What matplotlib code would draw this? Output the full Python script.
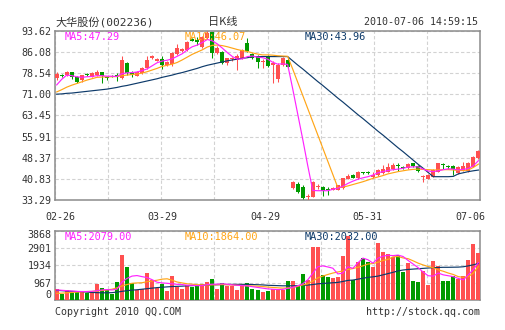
import numpy as np
import matplotlib
matplotlib.use("Agg")
import matplotlib.pyplot as plt

stock_name = "大华股份"
stock_code = "002236"
stamp = "2010-07-06 14:59:15"
date_labels = ["02-26", "03-29", "04-29", "05-31", "07-06"]
price_ticks = [33.29, 40.83, 48.37, 55.91, 63.45, 71.00, 78.54, 86.08, 93.62]
volume_ticks = [0, 967, 1934, 2901, 3868]

# daily k-line
opens = [76.9, 77.9, 77.7, 78.8, 77.2, 76.0, 78.2, 77.2, 77.8, 78.8,
         76.9, 77.5, 77.6, 76.9, 82.2, 78.7, 77.6, 78.4, 80.2, 83.8,
         83.0, 83.5, 81.4, 81.6, 85.2, 86.5, 86.7, 90.6, 90.3, 87.9,
         91.1, 93.0, 85.6, 86.1, 82.0, 83.4, 83.2, 83.8, 89.1, 85.2,
         84.4, 82.4, 84.4, 81.4, 76.4, 81.4, 83.2, 37.4, 39.0, 38.0,
         34.4, 34.5, 37.8, 38.0, 37.2, 36.9, 36.9, 37.5, 40.8, 42.2,
         41.0, 43.1, 43.2, 41.6, 42.2, 42.8, 43.4, 44.2, 45.5, 44.9,
         44.6, 46.3, 45.4, 41.4, 40.8, 41.6, 43.4, 45.9, 45.2, 45.4,
         42.8, 44.0, 43.6, 45.1, 48.2]
highs = [78.8, 78.3, 79.3, 79.0, 77.5, 78.0, 78.4, 78.8, 79.5, 79.0,
         77.2, 77.8, 78.5, 84.6, 82.6, 79.2, 79.3, 80.6, 84.5, 85.0,
         83.8, 84.5, 83.0, 86.0, 89.0, 87.5, 90.0, 91.0, 91.5, 91.8,
         93.62, 93.3, 88.0, 86.3, 84.0, 84.3, 85.2, 87.0, 91.1, 85.5,
         84.8, 83.5, 85.0, 83.0, 82.0, 84.2, 84.3, 40.2, 39.6, 38.5,
         35.6, 40.2, 39.0, 38.4, 37.8, 38.0, 38.8, 41.3, 42.5, 42.4,
         43.6, 43.4, 43.6, 43.4, 44.2, 45.8, 46.6, 46.6, 46.6, 45.3,
         46.4, 46.6, 45.8, 42.2, 42.4, 44.2, 46.5, 46.5, 45.9, 45.6,
         45.3, 46.9, 47.0, 48.9, 51.2]
lows = [76.0, 77.0, 77.3, 76.5, 75.0, 75.5, 77.4, 77.0, 77.5, 75.1,
        76.2, 77.0, 75.8, 76.5, 78.0, 77.0, 77.4, 78.2, 80.0, 83.5,
        82.8, 79.9, 81.0, 81.2, 85.0, 86.2, 86.5, 89.8, 88.5, 87.5,
        90.8, 83.8, 85.3, 81.6, 81.5, 83.0, 79.6, 83.5, 86.0, 83.5,
        80.2, 80.5, 80.8, 74.9, 75.5, 81.0, 80.5, 37.2, 35.8, 33.6,
        33.4, 34.3, 37.2, 34.6, 35.0, 36.7, 36.7, 37.3, 40.6, 41.0,
        40.8, 42.6, 42.5, 41.0, 42.0, 42.6, 43.2, 44.0, 43.6, 44.3,
        44.4, 45.2, 43.4, 39.8, 40.6, 41.4, 43.2, 44.3, 44.3, 42.2,
        42.6, 43.8, 43.4, 45.0, 48.0]
closes = [78.1, 77.6, 78.8, 77.2, 75.4, 77.8, 77.8, 78.4, 78.9, 77.3,
          76.7, 77.3, 77.4, 83.2, 78.4, 78.0, 79.0, 80.2, 83.2, 84.6,
          83.5, 81.4, 82.6, 85.6, 87.6, 87.0, 89.7, 90.0, 89.7, 91.5,
          92.7, 85.6, 87.3, 82.0, 83.8, 83.8, 84.6, 86.6, 86.4, 84.0,
          82.6, 82.8, 81.1, 82.0, 81.4, 83.8, 80.8, 39.8, 36.0, 34.1,
          34.8, 39.8, 38.0, 36.6, 36.9, 37.7, 38.5, 41.0, 41.9, 41.2,
          43.4, 42.9, 43.0, 42.2, 44.0, 44.2, 45.1, 45.8, 45.3, 44.6,
          46.1, 45.5, 43.6, 41.7, 42.2, 44.0, 46.3, 45.7, 45.0, 44.2,
          45.1, 45.4, 46.3, 48.7, 50.9]

ma5 = [74.3, 76.3, 77.8, 77.6, 77.2, 77.0, 77.2, 77.3, 77.6, 77.6,
       77.4, 77.4, 77.3, 78.3, 78.6, 78.7, 78.9, 79.4, 80.0, 81.1,
       82.2, 82.8, 83.1, 83.6, 84.5, 85.4, 86.8, 87.9, 88.5, 89.4,
       90.5, 90.0, 88.9, 87.4, 85.8, 84.4, 83.5, 83.6, 84.4, 84.6,
       84.2, 84.0, 83.5, 82.4, 81.7, 81.8, 81.6, 73.0, 64.0, 55.0,
       45.6, 36.7, 36.6, 36.6, 36.6, 37.1, 37.5, 38.2, 39.2, 40.0,
       40.7, 41.2, 41.6, 42.2, 43.0, 43.4, 43.8, 44.1, 44.3, 44.6,
       45.0, 45.1, 45.1, 44.3, 43.6, 43.4, 43.7, 44.1, 44.4, 44.3,
       44.0, 44.2, 44.5, 45.5, 47.29]
ma10 = [71.8, 72.6, 73.5, 74.2, 74.8, 75.4, 76.0, 76.5, 77.0, 77.1,
        77.2, 77.2, 77.3, 77.6, 77.8, 78.0, 78.2, 78.5, 79.0, 79.6,
        80.2, 80.9, 81.3, 81.7, 82.3, 83.2, 84.2, 85.2, 86.0, 86.8,
        87.8, 88.4, 88.5, 88.3, 87.9, 87.4, 86.9, 86.5, 86.2, 85.7,
        85.3, 85.0, 85.0, 84.9, 84.7, 84.6, 84.5, 80.0, 75.3, 70.6,
        65.9, 61.2, 56.5, 51.8, 47.1, 42.4, 37.7, 37.9, 38.3, 38.8,
        39.3, 39.8, 40.4, 41.0, 41.5, 42.0, 42.6, 43.0, 43.4, 43.7,
        44.0, 44.2, 44.3, 44.2, 44.1, 44.0, 44.0, 44.1, 44.1, 44.0,
        43.8, 43.8, 44.0, 44.9, 46.07]
ma30 = [71.0, 71.1, 71.3, 71.4, 71.6, 71.8, 72.0, 72.2, 72.4, 72.6,
        72.8, 73.1, 73.4, 73.8, 74.1, 74.5, 74.9, 75.3, 75.7, 76.1,
        76.5, 77.0, 77.4, 77.8, 78.3, 78.7, 79.2, 79.7, 80.2, 80.8,
        81.3, 81.7, 82.1, 82.5, 82.9, 83.2, 83.5, 83.8, 84.0, 84.4,
        84.4, 84.4, 84.4, 84.4, 84.4, 84.4, 84.4, 82.9, 81.4, 80.0,
        78.5, 77.0, 75.5, 74.1, 72.6, 71.1, 69.6, 68.2, 66.7, 65.2,
        63.7, 62.3, 60.8, 59.3, 57.8, 56.4, 54.9, 53.4, 51.9, 50.5,
        49.0, 47.5, 46.0, 44.6, 43.1, 41.6, 41.6, 41.6, 41.6, 41.7,
        42.6, 43.0, 43.4, 43.7, 43.96]

# volume
volumes = [630, 316, 558, 390, 502, 502, 390, 465, 880, 688,
           530, 345, 995, 2511, 1840, 940, 558, 614, 1500, 1100,
           651, 900, 510, 1339, 700, 614, 820, 744, 850, 900,
           1000, 1160, 614, 950, 800, 800, 558, 781, 950, 600,
           558, 465, 502, 614, 614, 558, 1079, 1079, 837, 1451,
           1116, 2939, 2939, 1395, 1265, 1209, 1265, 2455, 3571, 1116,
           2139, 2325, 2139, 1860, 3199, 2697, 2567, 2381, 2511, 1581,
           2083, 1079, 1023, 1637, 837, 2195, 1897, 1079, 1079, 1339,
           1150, 1350, 2200, 3100, 2595]
vol_ma5 = [558, 540, 520, 500, 480, 470, 470, 480, 520, 560,
           580, 560, 600, 1000, 1200, 1330, 1360, 1300, 1250, 1130,
           990, 950, 930, 900, 870, 860, 820, 820, 800, 800,
           860, 880, 880, 900, 880, 840, 820, 800, 780, 740,
           700, 660, 620, 600, 580, 590, 650, 700, 790, 900,
           1120, 1480, 1850, 1900, 1840, 1770, 1450, 1500, 1850, 1760,
           2070, 2330, 2240, 2050, 2330, 2440, 2490, 2470, 2500, 2420,
           2200, 2000, 1800, 1550, 1350, 1330, 1500, 1400, 1350, 1300,
           1200, 1120, 1400, 1700, 2079]
vol_ma10 = [370, 380, 400, 420, 440, 460, 470, 480, 500, 530,
            560, 600, 680, 780, 860, 930, 950, 960, 1020, 1060,
            1100, 1160, 1180, 1100, 1000, 950, 900, 880, 850, 840,
            830, 840, 850, 860, 850, 830, 820, 810, 800, 780,
            770, 750, 720, 700, 680, 660, 670, 680, 760, 840,
            900, 1050, 1230, 1330, 1420, 1500, 1560, 1620, 1700, 1750,
            1820, 1900, 2000, 2030, 2100, 2200, 2260, 2400, 2420, 2340,
            2300, 2180, 2050, 1950, 1860, 1800, 1680, 1600, 1500, 1420,
            1300, 1260, 1300, 1500, 1864]
vol_ma30 = [540, 520, 500, 480, 470, 460, 440, 420, 410, 400,
            400, 410, 440, 480, 520, 550, 570, 600, 630, 660,
            690, 710, 730, 750, 760, 770, 790, 800, 810, 820,
            830, 840, 850, 860, 860, 870, 870, 870, 870, 860,
            850, 840, 820, 810, 800, 790, 790, 790, 800, 820,
            830, 860, 900, 920, 940, 960, 980, 1030, 1090, 1110,
            1160, 1210, 1260, 1290, 1330, 1400, 1470, 1540, 1620, 1670,
            1700, 1720, 1740, 1760, 1780, 1800, 1810, 1820, 1820, 1825,
            1830, 1850, 1900, 1960, 2032]

RED = "#ff5050"
GREEN = "#009a00"
C_MA5 = "#ff22ff"
C_MA10 = "#ffa516"
C_MA30 = "#0d3a6a"
FRAME = "#8c8c8c"
GRID = "#d2d2d2"
TEXT = "#333333"
MONO = ["DejaVu Sans Mono", "Noto Sans CJK SC"]

W, H = 505, 330
fig = plt.figure(figsize=(W / 100, H / 100), dpi=100, facecolor="white")
ax = fig.add_axes([55 / W, 1 - 200 / H, 425 / W, 169.3 / H])
axv = fig.add_axes([55 / W, 1 - 300 / H, 425 / W, 69.5 / H])

n = len(closes)
x = np.arange(n)
o = np.array(opens)
c = np.array(closes)
colors = np.where(c >= o, RED, GREEN)
xlim = (-0.34, 84.32)

# candles: wick + body, dojis get a one-pixel body
ax.vlines(x, lows, highs, colors=colors, linewidth=0.75, zorder=3)
body_low = np.minimum(o, c)
body_h = np.maximum(np.abs(c - o), 0.35)
ax.bar(x, body_h, bottom=body_low, width=0.8, color=colors, linewidth=0, zorder=4)

ax.plot(x, ma30, color=C_MA30, lw=0.85, zorder=5)
ax.plot(x, ma10, color=C_MA10, lw=0.85, zorder=5)
ax.plot(x, ma5, color=C_MA5, lw=0.85, zorder=6)

# volume bars
axv.bar(x, volumes, width=0.8, color=colors, linewidth=0, zorder=3)
axv.plot(x, vol_ma30, color=C_MA30, lw=0.85, zorder=5)
axv.plot(x, vol_ma10, color=C_MA10, lw=0.85, zorder=5)
axv.plot(x, vol_ma5, color=C_MA5, lw=0.85, zorder=6)

grid_x = np.linspace(xlim[0], xlim[1], 9)
for a, ylim, yt, labels in (
    (ax, (price_ticks[0], price_ticks[-1]), price_ticks, [f"{v:.2f}" for v in price_ticks]),
    (axv, (0, volume_ticks[-1]), volume_ticks, [str(v) for v in volume_ticks]),
):
    a.set_xlim(*xlim)
    a.set_ylim(*ylim)
    a.set_xticks(grid_x)
    a.set_xticklabels([])
    a.set_yticks(yt)
    a.set_yticklabels(labels, family=MONO, fontsize=7.2, color=TEXT)
    a.tick_params(length=0, pad=2.6)
    a.grid(True, color=GRID, linestyle=(0, (3, 2)), linewidth=0.8, zorder=0)
    a.set_axisbelow(True)
    for s in a.spines.values():
        s.set_color(FRAME)
        s.set_linewidth(1.1)

vl = axv.get_yticklabels()
vl[-1].set_va("top")
vl[0].set_va("bottom")

# date labels under the k-line panel
for k, lab in enumerate(date_labels):
    ax.text((5 + k * 102.5) / 425, -17.5 / 169.3, lab, transform=ax.transAxes,
            ha="center", va="center", family=MONO, fontsize=7.2, color=TEXT)

# moving-average captions
for a, vals, yy in ((ax, (ma5, ma10, ma30), 1 - 6.8 / 169.3),
                    (axv, (vol_ma5, vol_ma10, vol_ma30), 1 - 6.8 / 69.5)):
    for k, (nm, v, col) in enumerate(zip(("MA5", "MA10", "MA30"), vals, (C_MA5, C_MA10, C_MA30))):
        a.text((10 + k * 120) / 425, yy, f"{nm}:{v[-1]:.2f}", transform=a.transAxes,
               ha="left", va="center", family=MONO, fontsize=7.4, color=col, zorder=7)

fig.text(55 / W, 1 - 22 / H, f"{stock_name}({stock_code})", family=MONO,
         fontsize=8, color=TEXT, ha="left", va="center")
fig.text(208 / W, 1 - 22 / H, "日K线", family=["Noto Sans CJK SC"],
         fontsize=8, color=TEXT, ha="left", va="center")
fig.text(478.5 / W, 1 - 22 / H, stamp, family=MONO, fontsize=7.2,
         color=TEXT, ha="right", va="center")
fig.text(55 / W, 1 - 312 / H, "Copyright 2010 QQ.COM", family=MONO,
         fontsize=7.2, color=TEXT, ha="left", va="center")
fig.text(480 / W, 1 - 312 / H, "http://stock.qq.com", family=MONO,
         fontsize=7.2, color=TEXT, ha="right", va="center")

fig.savefig("out.png", dpi=100, facecolor="white")
